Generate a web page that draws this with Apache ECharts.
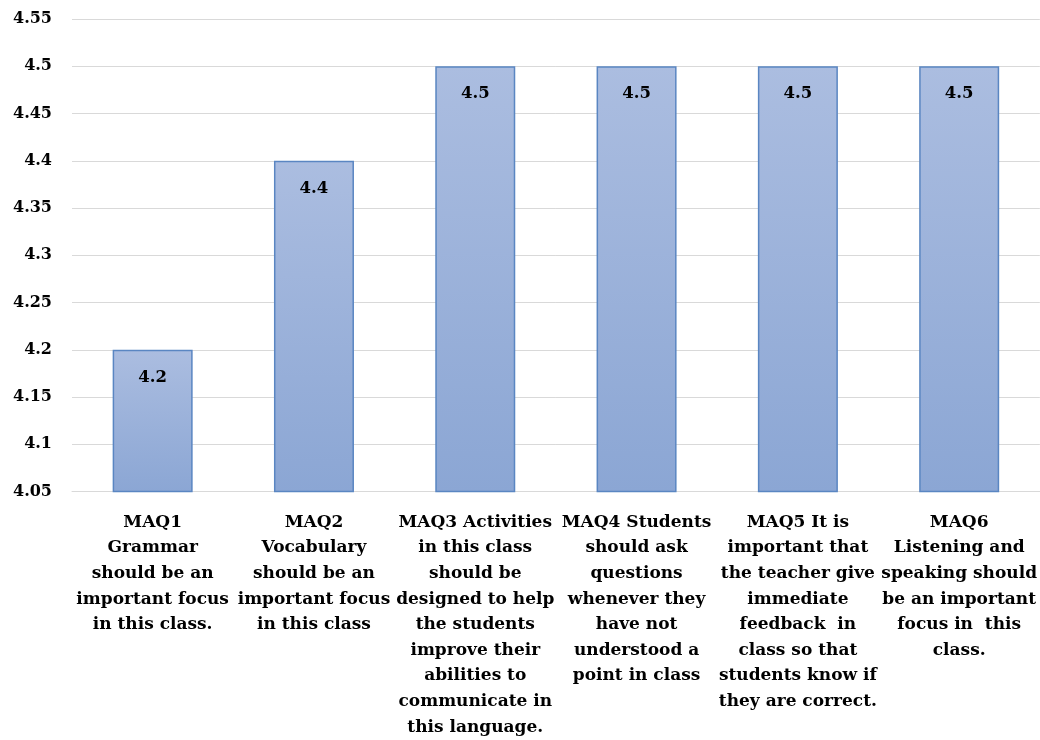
<!DOCTYPE html>
<html>
<head>
<meta charset="utf-8">
<script src="https://cdn.jsdelivr.net/npm/echarts@6/dist/echarts.min.js"></script>
<style>
  html, body { margin: 0; padding: 0; background: #ffffff; }
  #chart { width: 1040px; height: 740px; }
</style>
</head>
<body>
<div id="chart"></div>
<script>
// Questionnaire items (line-broken as they appear under the axis)
const categories = [
  'MAQ1\nGrammar\nshould be an\nimportant focus\nin this class.',
  'MAQ2\nVocabulary\nshould be an\nimportant focus\nin this class',
  'MAQ3 Activities\nin this class\nshould be\ndesigned to help\nthe students\nimprove their\nabilities to\ncommunicate in\nthis language.',
  'MAQ4 Students\nshould ask\nquestions\nwhenever they\nhave not\nunderstood a\npoint in class',
  'MAQ5 It is\nimportant that\nthe teacher give\nimmediate\nfeedback  in\nclass so that\nstudents know if\nthey are correct.',
  'MAQ6\nListening and\nspeaking should\nbe an important\nfocus in  this\nclass.'
];
// Mean scores
const meanScores = [4.2, 4.4, 4.5, 4.5, 4.5, 4.5];
// Value axis range
const axisMin = 4.05;
const axisMax = 4.55;
const axisStep = 0.05;

const serif = '"DejaVu Serif", "Liberation Serif", serif';

const chart = echarts.init(document.getElementById('chart'));
chart.setOption({
  animation: false,
  grid: { left: 72, right: 0, top: 19, bottom: 244 },
  xAxis: {
    type: 'category',
    data: categories,
    axisTick: { show: false },
    axisLine: { lineStyle: { color: '#d9d9d9', width: 1 } },
    axisLabel: {
      interval: 0,
      margin: 18,
      color: '#000',
      fontFamily: serif,
      fontWeight: 'bold',
      fontSize: 17,
      lineHeight: 25.6
    }
  },
  yAxis: {
    type: 'value',
    min: axisMin,
    max: axisMax,
    interval: axisStep,
    axisLine: { show: false },
    axisTick: { show: false },
    splitLine: { lineStyle: { color: '#d9d9d9', width: 1 } },
    axisLabel: {
      margin: 20,
      color: '#000',
      fontFamily: serif,
      fontWeight: 'bold',
      fontSize: 16,
      formatter: v => String(+v.toFixed(2))
    }
  },
  series: [{
    type: 'bar',
    data: meanScores,
    barWidth: 80,
    itemStyle: {
      color: new echarts.graphic.LinearGradient(0, 0, 0, 1, [
        { offset: 0, color: '#abbde0' },
        { offset: 1, color: '#8ba6d4' }
      ]),
      borderColor: '#5a86c2',
      borderWidth: 1.5
    },
    label: {
      show: true,
      position: 'insideTop',
      distance: 19,
      color: '#000',
      fontFamily: serif,
      fontWeight: 'bold',
      fontSize: 16.5,
      formatter: p => String(p.value)
    }
  }]
});
</script>
</body>
</html>
